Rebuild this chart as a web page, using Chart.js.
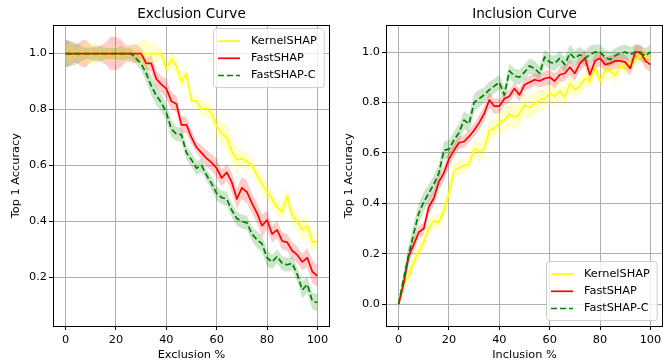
<!DOCTYPE html>
<html>
<head>
<meta charset="utf-8">
<script src="https://cdn.jsdelivr.net/npm/chart.js@4.4.1/dist/chart.umd.min.js"></script>
<style>
  body { margin: 0; background: #fff; }
  #wrap { position: relative; width: 665px; height: 362px; }
  canvas { position: absolute; top: 0; }
</style>
</head>
<body>
<div id="wrap">
  <canvas id="exclusion" width="333" height="362" style="left:0"></canvas>
  <canvas id="inclusion" width="332" height="362" style="left:333px"></canvas>
</div>
<script>
const pct = [
  0, 2, 4, 6, 8, 10, 12, 14, 16, 18,
  20, 22, 24, 26, 28, 30, 32, 34, 36, 38,
  40, 42, 44, 46, 48, 50, 52, 54, 56, 58,
  60, 62, 64, 66, 68, 70, 72, 74, 76, 78,
  80, 82, 84, 86, 88, 90, 92, 94, 96, 98,
  100,
];
const xTicks = [0, 20, 40, 60, 80, 100];
const yTicksExc = [0.2, 0.4, 0.6, 0.8, 1.0];
const yTicksInc = [0.0, 0.2, 0.4, 0.6, 0.8, 1.0];

// exclusion curve
const kernelExc = [
  1, 1, 1, 1, 1, 1, 1, 1, 1, 1,
  1, 1, 1, 1, 1, 1, 1, 1, 1, 1,
  0.946, 0.98, 0.955, 0.9, 0.928, 0.83, 0.83, 0.8, 0.805, 0.785,
  0.74, 0.714, 0.7, 0.65, 0.62, 0.625, 0.613, 0.6, 0.565, 0.535,
  0.505, 0.48, 0.45, 0.435, 0.49, 0.42, 0.4, 0.37, 0.385, 0.325,
  0.33,
];
const kernelExcErr = [
  0.03, 0.04, 0.02, 0.03, 0.045, 0.035, 0.04, 0.02, 0.03, 0.02,
  0.03, 0.02, 0.03, 0.02, 0.035, 0.045, 0.05, 0.04, 0.03, 0.02,
  0.03, 0.025, 0.03, 0.03, 0.025, 0.02, 0.02, 0.025, 0.03, 0.03,
  0.035, 0.04, 0.05, 0.05, 0.045, 0.03, 0.03, 0.03, 0.03, 0.035,
  0.03, 0.03, 0.03, 0.03, 0.03, 0.03, 0.035, 0.04, 0.04, 0.035,
  0.03,
];
const fastExc = [
  1, 1, 1, 1, 1, 1, 1, 1, 1, 1,
  1, 1, 1, 1, 1, 1, 0.965, 0.965, 0.91, 0.89,
  0.875, 0.83, 0.82, 0.745, 0.745, 0.7, 0.665, 0.645, 0.625, 0.61,
  0.59, 0.555, 0.575, 0.54, 0.48, 0.52, 0.505, 0.465, 0.43, 0.385,
  0.405, 0.355, 0.37, 0.33, 0.325, 0.295, 0.28, 0.255, 0.27, 0.22,
  0.205,
];
const fastExcErr = [
  0.05, 0.04, 0.03, 0.045, 0.05, 0.03, 0.02, 0.03, 0.04, 0.06,
  0.06, 0.05, 0.03, 0.03, 0.035, 0.02, 0.02, 0.03, 0.03, 0.03,
  0.035, 0.03, 0.03, 0.03, 0.03, 0.025, 0.02, 0.025, 0.03, 0.03,
  0.035, 0.03, 0.03, 0.035, 0.035, 0.04, 0.04, 0.035, 0.035, 0.04,
  0.035, 0.03, 0.03, 0.03, 0.03, 0.03, 0.03, 0.03, 0.035, 0.04,
  0.04,
];
const fastCExc = [
  1, 1, 1, 1, 1, 1, 1, 1, 1, 1,
  1, 1, 1, 1, 0.982, 0.964, 0.93, 0.885, 0.85, 0.825,
  0.79, 0.73, 0.713, 0.71, 0.645, 0.62, 0.59, 0.6, 0.565, 0.535,
  0.5, 0.485, 0.48, 0.44, 0.41, 0.4, 0.395, 0.355, 0.335, 0.32,
  0.27, 0.255, 0.275, 0.25, 0.245, 0.25, 0.21, 0.155, 0.175, 0.115,
  0.11,
];
const fastCExcErr = [
  0.05, 0.045, 0.04, 0.03, 0.02, 0.02, 0.03, 0.025, 0.02, 0.02,
  0.02, 0.025, 0.02, 0.02, 0.02, 0.025, 0.03, 0.035, 0.035, 0.03,
  0.03, 0.03, 0.025, 0.025, 0.025, 0.025, 0.025, 0.025, 0.02, 0.025,
  0.025, 0.025, 0.025, 0.025, 0.025, 0.025, 0.025, 0.025, 0.03, 0.03,
  0.03, 0.025, 0.025, 0.025, 0.025, 0.025, 0.025, 0.03, 0.03, 0.03,
  0.03,
];

// inclusion curve
const kernelInc = [
  0, 0.085, 0.11, 0.165, 0.21, 0.245, 0.3, 0.33, 0.325, 0.37,
  0.44, 0.53, 0.54, 0.55, 0.555, 0.615, 0.605, 0.615, 0.69, 0.695,
  0.72, 0.73, 0.755, 0.74, 0.755, 0.79, 0.78, 0.795, 0.81, 0.815,
  0.835, 0.825, 0.845, 0.82, 0.875, 0.85, 0.865, 0.895, 0.885, 0.935,
  0.885, 0.925, 0.925, 0.905, 0.945, 0.935, 0.955, 0.965, 0.985, 0.985,
  0.975,
];
const kernelIncErr = [
  0.02, 0.03, 0.03, 0.03, 0.03, 0.03, 0.03, 0.03, 0.03, 0.035,
  0.035, 0.03, 0.03, 0.03, 0.03, 0.035, 0.04, 0.04, 0.04, 0.04,
  0.045, 0.05, 0.05, 0.05, 0.05, 0.05, 0.05, 0.045, 0.045, 0.04,
  0.04, 0.04, 0.04, 0.04, 0.035, 0.035, 0.035, 0.035, 0.03, 0.03,
  0.03, 0.03, 0.03, 0.03, 0.025, 0.025, 0.025, 0.025, 0.025, 0.025,
  0.025,
];
const fastInc = [
  0, 0.08, 0.19, 0.235, 0.285, 0.3, 0.385, 0.42, 0.485, 0.52,
  0.575, 0.61, 0.64, 0.645, 0.665, 0.69, 0.72, 0.755, 0.81, 0.785,
  0.785, 0.815, 0.825, 0.855, 0.83, 0.87, 0.88, 0.89, 0.885, 0.895,
  0.9, 0.885, 0.91, 0.915, 0.94, 0.915, 0.955, 0.975, 0.91, 0.965,
  0.975, 0.95, 0.955, 0.965, 0.965, 0.96, 0.935, 1.0, 1.0, 0.965,
  0.95,
];
const fastIncErr = [
  0.02, 0.03, 0.03, 0.025, 0.025, 0.025, 0.03, 0.03, 0.03, 0.03,
  0.03, 0.025, 0.025, 0.025, 0.025, 0.025, 0.03, 0.03, 0.03, 0.03,
  0.03, 0.025, 0.025, 0.025, 0.025, 0.025, 0.025, 0.025, 0.025, 0.03,
  0.03, 0.03, 0.03, 0.03, 0.03, 0.03, 0.03, 0.03, 0.04, 0.03,
  0.03, 0.03, 0.03, 0.03, 0.03, 0.03, 0.03, 0.03, 0.03, 0.03,
  0.03,
];
const fastCInc = [
  0, 0.1, 0.195, 0.28, 0.36, 0.405, 0.44, 0.475, 0.52, 0.61,
  0.615, 0.65, 0.68, 0.73, 0.715, 0.8, 0.815, 0.83, 0.85, 0.865,
  0.88, 0.83, 0.925, 0.905, 0.9, 0.92, 0.945, 0.935, 0.915, 0.98,
  0.96, 0.955, 0.975, 0.95, 0.995, 0.975, 0.99, 0.975, 0.99, 1.0,
  1.0, 0.98, 0.97, 0.985, 0.995, 1.0, 0.99, 1.0, 0.995, 0.985,
  1.0,
];
const fastCIncErr = [
  0.02, 0.03, 0.04, 0.04, 0.04, 0.04, 0.035, 0.035, 0.035, 0.035,
  0.035, 0.035, 0.035, 0.035, 0.035, 0.035, 0.035, 0.03, 0.03, 0.03,
  0.03, 0.03, 0.03, 0.03, 0.03, 0.03, 0.03, 0.03, 0.03, 0.03,
  0.03, 0.03, 0.03, 0.03, 0.035, 0.03, 0.03, 0.03, 0.035, 0.03,
  0.03, 0.03, 0.03, 0.03, 0.03, 0.03, 0.03, 0.03, 0.03, 0.03,
  0.03,
];

Chart.defaults.font.family = "'DejaVu Sans', sans-serif";
Chart.defaults.font.size = 11.3;
Chart.defaults.color = "#000";

// mean line plus a shaded band (lower, upper filled to lower)
function series(label, color, band, values, err, dash, order) {
  const pts = (f) => pct.map((x, i) => ({ x: x, y: f(i) }));
  const bandBase = { pointRadius: 0, borderWidth: 0, order: 10, tension: 0 };
  return [
    { ...bandBase, data: pts((i) => values[i] - err[i]), fill: false },
    { ...bandBase, data: pts((i) => values[i] + err[i]), fill: "-1", backgroundColor: band },
    {
      label: label,
      data: pts((i) => values[i]),
      borderColor: color,
      borderWidth: 1.7,
      borderDash: dash,
      borderJoinStyle: "round",
      pointRadius: 0,
      fill: false,
      tension: 0,
      order: order,
      inLegend: true,
    },
  ];
}

const frame = {
  id: "frame",
  afterDatasetsDraw(chart) {
    const { ctx, chartArea: a } = chart;
    ctx.save();
    ctx.strokeStyle = "#000";
    ctx.lineWidth = 1;
    ctx.strokeRect(Math.round(a.left) + 0.5, Math.round(a.top) + 0.5,
      Math.round(a.right - a.left) - 1, Math.round(a.bottom - a.top));
    ctx.restore();
  },
};

const innerLegend = {
  id: "innerLegend",
  afterDraw(chart, args, opts) {
    const { ctx, chartArea: a } = chart;
    const items = chart.data.datasets.filter((d) => d.inLegend);
    ctx.save();
    ctx.font = "11.3px 'DejaVu Sans', sans-serif";
    const textW = Math.max(...items.map((d) => ctx.measureText(d.label).width));
    const rowH = 17.2, padL = 5, handle = 22, gap = 11, padR = 7;
    const w = padL + handle + gap + textW + padR;
    const h = items.length * rowH + 7.5;
    const x = Math.round(a.right - 6 - w);
    const y = Math.round(opts.corner === "upper" ? a.top + 3 : a.bottom - 6 - h);
    ctx.fillStyle = "rgba(255,255,255,0.8)";
    ctx.strokeStyle = "#cccccc";
    ctx.lineWidth = 1;
    ctx.beginPath();
    ctx.roundRect(x + 0.5, y + 0.5, w, h, 3);
    ctx.fill();
    ctx.stroke();
    items.forEach((d, i) => {
      const cy = y + 4.5 + rowH * i + rowH / 2;
      ctx.strokeStyle = d.borderColor;
      ctx.lineWidth = d.borderWidth;
      ctx.setLineDash(d.borderDash || []);
      ctx.beginPath();
      ctx.moveTo(x + padL, cy);
      ctx.lineTo(x + padL + handle, cy);
      ctx.stroke();
      ctx.setLineDash([]);
      ctx.fillStyle = "#000";
      ctx.textBaseline = "middle";
      ctx.fillText(d.label, x + padL + handle + gap, cy);
    });
    ctx.restore();
  },
};

function options(title, xLabel, yMin, yMax, yTicks, corner, padRight) {
  return {
    responsive: false,
    animation: false,
    devicePixelRatio: 1,
    layout: { padding: { left: 0, right: padRight, top: 0, bottom: 0 } },
    plugins: {
      legend: { display: false },
      tooltip: { enabled: false },
      title: {
        display: true,
        fullSize: false,
        text: title,
        color: "#000",
        font: { size: 13.6, weight: "normal" },
        padding: { top: 6, bottom: 3 },
      },
      innerLegend: { corner: corner },
    },
    scales: {
      x: {
        type: "linear",
        min: -5,
        max: 105,
        afterBuildTicks: (s) => { s.ticks = xTicks.map((v) => ({ value: v })); },
        afterFit: (s) => { s.height = 36; },
        grid: { color: "#b0b0b0", lineWidth: 1, tickColor: "#000", tickLength: 4 },
        border: { display: false },
        ticks: { padding: 3, callback: (v) => String(v) },
        title: { display: true, text: xLabel, padding: { top: 0, bottom: 0 } },
      },
      y: {
        type: "linear",
        min: yMin,
        max: yMax,
        afterBuildTicks: (s) => { s.ticks = yTicks.map((v) => ({ value: v })); },
        afterFit: (s) => { s.width = 53; },
        grid: { color: "#b0b0b0", lineWidth: 1, tickColor: "#000", tickLength: 4 },
        border: { display: false },
        ticks: { padding: 2, callback: (v) => v.toFixed(1) },
        title: { display: true, text: "Top 1 Accuracy", padding: { top: 9, bottom: 0 } },
      },
    },
  };
}

new Chart(document.getElementById("exclusion"), {
  type: "line",
  data: {
    datasets: [
      ...series("KernelSHAP", "#ffff00", "rgba(255,255,0,0.2)", kernelExc, kernelExcErr, [], 2),
      ...series("FastSHAP", "#ff0000", "rgba(255,0,0,0.2)", fastExc, fastExcErr, [], 1),
      ...series("FastSHAP-C", "#008000", "rgba(0,128,0,0.2)", fastCExc, fastCExcErr, [6, 3], 0),
    ],
  },
  options: options("Exclusion Curve", "Exclusion %", 0.026, 1.101, yTicksExc, "upper", 3),
  plugins: [frame, innerLegend],
});

new Chart(document.getElementById("inclusion"), {
  type: "line",
  data: {
    datasets: [
      ...series("KernelSHAP", "#ffff00", "rgba(255,255,0,0.2)", kernelInc, kernelIncErr, [], 2),
      ...series("FastSHAP", "#ff0000", "rgba(255,0,0,0.2)", fastInc, fastIncErr, [], 1),
      ...series("FastSHAP-C", "#008000", "rgba(0,128,0,0.2)", fastCInc, fastCIncErr, [6, 3], 0),
    ],
  },
  options: options("Inclusion Curve", "Inclusion %", -0.087, 1.106, yTicksInc, "lower", 2),
  plugins: [frame, innerLegend],
});
</script>
</body>
</html>
